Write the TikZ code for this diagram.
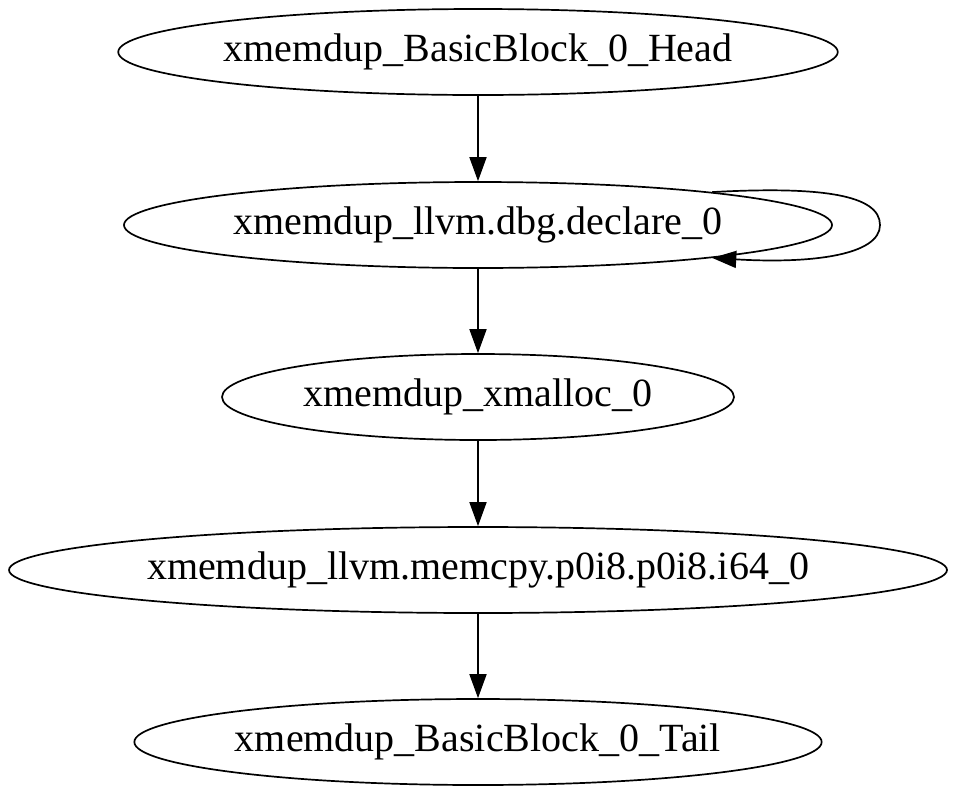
\documentclass[tikz,border=0pt]{standalone}
\usepackage{fontspec}
\setmainfont{Liberation Serif}
\usepackage{tikz}
\usetikzlibrary{shapes.geometric}
\usetikzlibrary{arrows.meta}
\usetikzlibrary{calc}

\begin{document}
\begin{tikzpicture}[x=1pt,y=-1pt]%%xmemdup

                \tikzstyle{block} = [ellipse, draw, line width=1.7pt, inner sep=0pt, minimum height=86pt, font=\fontsize{40}{48}\selectfont]
                \tikzstyle{edge}  = [line width=1.7pt, -{Triangle[length=24pt,width=17pt]}]
                \useasboundingbox (0,0) rectangle (960,796);

                \node [block, minimum width=718pt](head) at (478,52) {xmemdup\_BasicBlock\_0\_Head};
                \node [block, minimum width=708pt](dbg) at ($(head)+(0,173)$) {xmemdup\_llvm.dbg.declare\_0};
                \node [block, minimum width=512pt](xm) at ($(dbg)+(0,172)$) {xmemdup\_xmalloc\_0};
                \node [block, minimum width=938pt](cpy) at ($(xm)+(0,173)$) {xmemdup\_llvm.memcpy.p0i8.p0i8.i64\_0};
                \node [block, minimum width=684pt](tail) at ($(cpy)+(0,172)$) {xmemdup\_BasicBlock\_0\_Tail};

                \coordinate (loop) at ($(dbg)+(402,0)$);

                \draw [edge] (head)--(dbg);
                \draw [edge] (dbg)--(xm);
                \draw [edge] (xm)--(cpy);
                \draw [edge] (cpy)--(tail);
                \draw [edge] (dbg.8) .. controls +(110,-6) and +(0,-30) .. (loop)
                        .. controls +(0,30) and +(100,6) .. (dbg.-8);
\end{tikzpicture}
\end{document}
